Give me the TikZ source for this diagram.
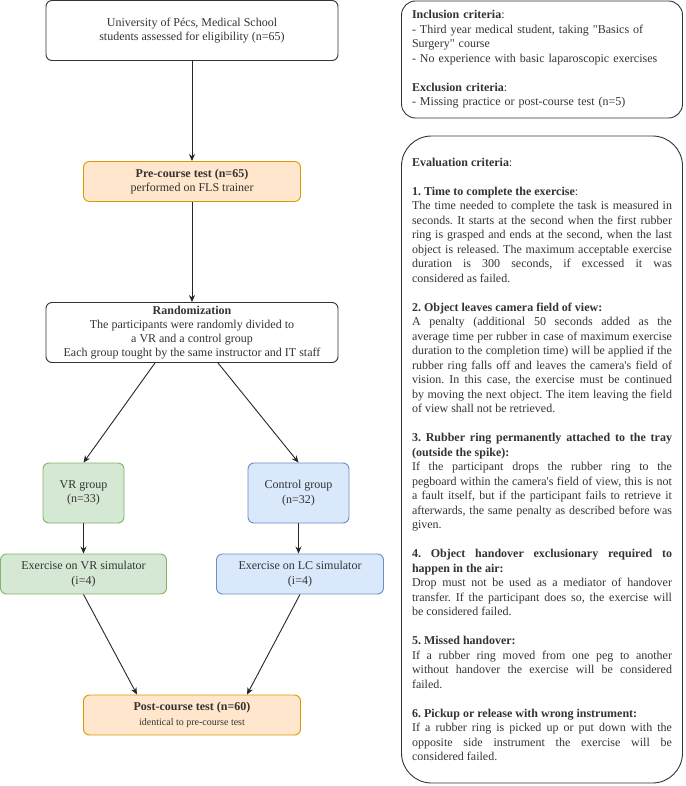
\documentclass[tikz,border=0pt]{standalone}
\usepackage{fontspec}
\setmainfont{Liberation Serif}
\usetikzlibrary{arrows.meta,calc}
\hyphenpenalty=10000
\tolerance=10000
\hbadness=10000
\frenchspacing
\definecolor{orfill}{HTML}{FFE6CC}
\definecolor{ordraw}{HTML}{D79B00}
\definecolor{grfill}{HTML}{D5E8D4}
\definecolor{grdraw}{HTML}{82B366}
\definecolor{blfill}{HTML}{DAE8FC}
\definecolor{bldraw}{HTML}{6C8EBF}
\definecolor{ink}{HTML}{333333}
\tikzset{
  box/.style={draw=ink, line width=0.9pt, rounded corners=6pt, align=center, inner sep=0pt,
    text=ink, font=\fontsize{12}{14.5}\selectfont},
  testbox/.style={box, draw=ordraw, fill=orfill},
  vrbox/.style={box, draw=grdraw, fill=grfill},
  ctrlbox/.style={box, draw=bldraw, fill=blfill},
  critbox/.style={box, text width=260pt},
  flow/.style={-{Stealth[length=7pt,width=6pt]}, line width=0.9pt, draw=black!85},
}

\begin{document}
\begin{tikzpicture}[x=1pt,y=-1pt]
    \useasboundingbox (0,0) rectangle (685,786);
    \node[box, minimum width=292pt, minimum height=60pt](elig) at (192,30.5)
      {University of Pécs, Medical School\\students assessed for eligibility (n=65)};
    \node[testbox, minimum width=217pt, minimum height=40pt](pre) at (192,181.5)
      {\textbf{Pre-course test (n=65)}\\performed on FLS trainer};
    \node[box, minimum width=292pt, minimum height=60pt, font=\fontsize{12}{14}\selectfont](rand) at (192,332.5)
      {\textbf{Randomization}\\The participants were randomly divided to\\a VR and a control group\\Each group tought by the same instructor and IT staff};
    \node[vrbox, minimum width=81pt, minimum height=60pt](vrg) at (83.5,493) {VR group\\(n=33)};
    \node[ctrlbox, minimum width=101pt, minimum height=60pt](ctg) at (298.5,493) {Control group\\(n=32)};
    \node[vrbox, minimum width=166pt, minimum height=40pt](exvr) at (83.5,574) {Exercise on VR simulator\\(i=4)};
    \node[ctrlbox, minimum width=167pt, minimum height=40pt](exlc) at (300,574) {Exercise on LC simulator\\(i=4)};
    \node[testbox, minimum width=217pt, minimum height=40pt](post) at (192,715)
      {\textbf{Post-course test (n=60)}\\{\fontsize{10}{12}\selectfont identical to pre-course test}};
    \node[critbox, align=left, rounded corners=14pt, minimum width=281pt, minimum height=117pt](incl) at (542,59.5)
      {\textbf{Inclusion criteria}:\\
       - Third year medical student, taking \textquotedbl Basics of\\
       Surgery\textquotedbl\ course\\
       - No experience with basic laparoscopic exercises\\[14.5pt]
       \textbf{Exclusion criteria}:\\
       - Missing practice or post-course test (n=5)};
    \node[critbox, align=justify, rounded corners=30pt, minimum width=281pt, minimum height=647pt](eval) at (542,459.5)
      {\textbf{Evaluation criteria}:\\[14.5pt]
       \textbf{1. Time to complete the exercise}:\\
       The time needed to complete the task is measured in\linebreak
       seconds. It starts at the second when the first rubber\linebreak
       ring is grasped and ends at the second, when the last\linebreak
       object is released. The maximum acceptable exercise\linebreak
       duration is 300 seconds, if excessed it was\linebreak
       considered as failed.\\[14.5pt]
       \textbf{2. Object leaves camera field of view:}\\
       A penalty (additional 50 seconds added as the\linebreak
       average time per rubber in case of maximum exercise\linebreak
       duration to the completion time) will be applied if the\linebreak
       rubber ring falls off and leaves the camera\textquotesingle s field of\linebreak
       vision. In this case, the exercise must be continued\linebreak
       by moving the next object. The item leaving the field\linebreak
       of view shall not be retrieved.\\[14.5pt]
       \textbf{3. Rubber ring permanently attached to the tray\linebreak
       (outside the spike):}\\
       If the participant drops the rubber ring to the\linebreak
       pegboard within the camera\textquotesingle s field of view, this is not\linebreak
       a fault itself, but if the participant fails to retrieve it\linebreak
       afterwards, the same penalty as described before was\linebreak
       given.\\[14.5pt]
       \textbf{4. Object handover exclusionary required to\linebreak
       happen in the air:}\\
       Drop must not be used as a mediator of handover\linebreak
       transfer. If the participant does so, the exercise will\linebreak
       be considered failed.\\[14.5pt]
       \textbf{5. Missed handover:}\\
       If a rubber ring moved from one peg to another\linebreak
       without handover the exercise will be considered\linebreak
       failed.\\[14.5pt]
       \textbf{6. Pickup or release with wrong instrument:}\\
       If a rubber ring is picked up or put down with the\linebreak
       opposite side instrument the exercise will be\linebreak
       considered failed.};
    \draw[flow] (elig) -- (pre);
    \draw[flow] (pre) -- (rand);
    \draw[flow] ($(rand.south)+(-37,0)$) -- (vrg.north);
    \draw[flow] ($(rand.south)+(26,0)$) -- (ctg.north);
    \draw[flow] (vrg) -- (exvr);
    \draw[flow] (ctg.south) -- (ctg.south |- exlc.north);
    \draw[flow] (exvr.south) -- ($(post.north)+(-55,0)$);
    \draw[flow] (exlc.south) -- ($(post.north)+(55,0)$);
\end{tikzpicture}
\end{document}
